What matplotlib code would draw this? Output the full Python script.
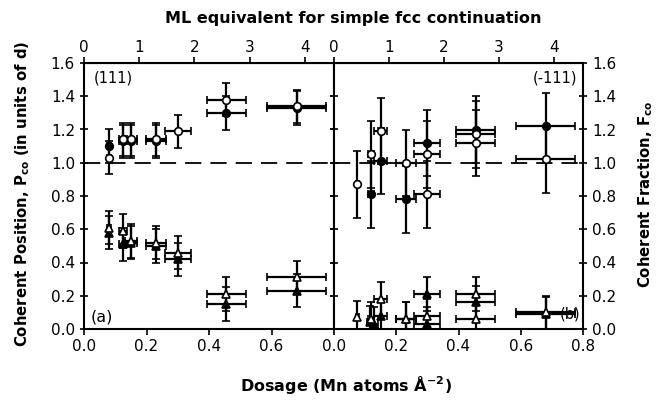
import numpy as np
import matplotlib.pyplot as plt

# ---- (111) panel: coherent position (upper) and coherent fraction (lower) ----
dose_111 = [0.08, 0.125, 0.15, 0.23, 0.30, 0.455, 0.68]
dose_err_111 = [0.005, 0.012, 0.02, 0.032, 0.042, 0.063, 0.095]

pos_111_filled = [1.10, 1.13, 1.13, 1.13, np.nan, 1.30, 1.33]
pos_111_open = [1.03, 1.14, 1.14, 1.14, 1.19, 1.38, 1.34]
frac_111_filled = [0.58, 0.51, 0.52, 0.50, 0.42, 0.15, 0.23]
frac_111_open = [0.61, 0.59, 0.53, 0.52, 0.46, 0.21, 0.31]

# ---- (-111) panel ----
dose_m111_pf = [0.12, 0.15, 0.23, 0.30, 0.455, 0.68]
dose_err_m111_pf = [0.01, 0.02, 0.032, 0.042, 0.063, 0.095]
pos_m111_filled = [0.81, 1.01, 0.78, 1.12, 1.20, 1.22]

dose_m111_po = [0.075, 0.12, 0.15, 0.23, 0.30, 0.30, 0.455, 0.455, 0.68]
dose_err_m111_po = [0.005, 0.01, 0.02, 0.032, 0.042, 0.042, 0.063, 0.063, 0.095]
pos_m111_open = [0.87, 1.05, 1.19, 1.00, 1.05, 0.81, 1.17, 1.12, 1.02]

dose_m111_ff = [0.115, 0.13, 0.15, 0.23, 0.30, 0.30, 0.455, 0.68]
dose_err_m111_ff = [0.008, 0.01, 0.02, 0.032, 0.042, 0.042, 0.063, 0.095]
frac_m111_filled = [0.04, 0.03, 0.08, 0.06, 0.21, 0.03, 0.16, 0.09]

dose_m111_fo = [0.075, 0.12, 0.15, 0.23, 0.30, 0.455, 0.455, 0.68]
dose_err_m111_fo = [0.005, 0.01, 0.02, 0.032, 0.042, 0.063, 0.063, 0.095]
frac_m111_open = [0.07, 0.06, 0.18, 0.06, 0.08, 0.21, 0.06, 0.10]

ML_PER_DOSE = 5.66

plt.rcParams['font.family'] = 'DejaVu Sans'
plt.rcParams['font.size'] = 11

fig = plt.figure(figsize=(6.67, 4.03), dpi=100)
ax1 = fig.add_axes([84 / 667, 1 - 329 / 403, 250 / 667, 266 / 403])
ax2 = fig.add_axes([334 / 667, 1 - 329 / 403, 249 / 667, 266 / 403])


def draw(ax, x, y, xerr, yerr, marker, filled):
    ax.errorbar(x, y, xerr=xerr, yerr=yerr, fmt=marker, color='black',
                mfc='black' if filled else 'white', mec='black', ms=5.5,
                mew=1.2, elinewidth=1.6, capsize=3, capthick=1.6, zorder=3)


draw(ax1, dose_111, pos_111_filled, dose_err_111, 0.1, 'o', True)
draw(ax1, dose_111, pos_111_open, dose_err_111, 0.1, 'o', False)
draw(ax1, dose_111, frac_111_filled, dose_err_111, 0.1, '^', True)
draw(ax1, dose_111, frac_111_open, dose_err_111, 0.1, '^', False)

draw(ax2, dose_m111_pf, pos_m111_filled, dose_err_m111_pf, 0.2, 'o', True)
draw(ax2, dose_m111_po, pos_m111_open, dose_err_m111_po, 0.2, 'o', False)
draw(ax2, dose_m111_ff, frac_m111_filled, dose_err_m111_ff, 0.1, '^', True)
draw(ax2, dose_m111_fo, frac_m111_open, dose_err_m111_fo, 0.1, '^', False)

for ax in (ax1, ax2):
    ax.set_xlim(0, 0.8)
    ax.set_ylim(0, 1.6)
    ax.axhline(1.0, color='black', lw=1.3, dashes=(9, 5), zorder=1)
    ax.set_yticks(np.arange(0, 1.61, 0.2))
    ax.tick_params(axis='both', direction='out', length=4, width=1.2, labelsize=11)
    ax.tick_params(axis='y', direction='inout', length=6)
    for s in ax.spines.values():
        s.set_linewidth(1.5)
    top = ax.secondary_xaxis('top', functions=(lambda d: d * ML_PER_DOSE,
                                               lambda m: m / ML_PER_DOSE))
    top.set_xticks([0, 1, 2, 3, 4])
    top.tick_params(direction='out', length=4, width=1.2, labelsize=11, pad=2)

ax1.set_xticks([0.0, 0.2, 0.4, 0.6])
ax1.set_xticklabels(['0.0', '0.2', '0.4', '0.6'])
ax1.yaxis.set_ticks_position('both')
ax1.tick_params(axis='y', right=True, labelright=False)

ax2.set_xticks([0.0, 0.2, 0.4, 0.6, 0.8])
ax2.yaxis.tick_right()
ax2.tick_params(axis='y', left=True, labelleft=False, right=True, labelright=True)

ax1.text(0.03, 1.51, '(111)', fontsize=10.5, va='center')
ax1.text(0.02, 0.07, '(a)', fontsize=11.5, va='center')
ax2.text(0.78, 1.51, '(-111)', fontsize=10.5, va='center', ha='right')
ax2.text(0.79, 0.09, '(b)', fontsize=10.5, va='center', ha='right')

fig.text(353 / 667, 1 - 19 / 403, 'ML equivalent for simple fcc continuation',
         ha='center', va='center', fontsize=11.5, fontweight='bold')
fig.text(346 / 667, 1 - 385 / 403, r'Dosage (Mn atoms Å$^{\mathbf{-2}}$)',
         ha='center', va='center', fontsize=11.5, fontweight='bold')
fig.text(23 / 667, 1 - 194 / 403,
         r'Coherent Position, P$_{\mathbf{co}}$ (in units of d)',
         rotation=90, ha='center', va='center', fontsize=10.7, fontweight='bold')
fig.text(646 / 667, 1 - 194 / 403, r'Coherent Fraction, F$_{\mathbf{co}}$',
         rotation=90, ha='center', va='center', fontsize=10.7, fontweight='bold')

fig.savefig('out.png', dpi=100)
